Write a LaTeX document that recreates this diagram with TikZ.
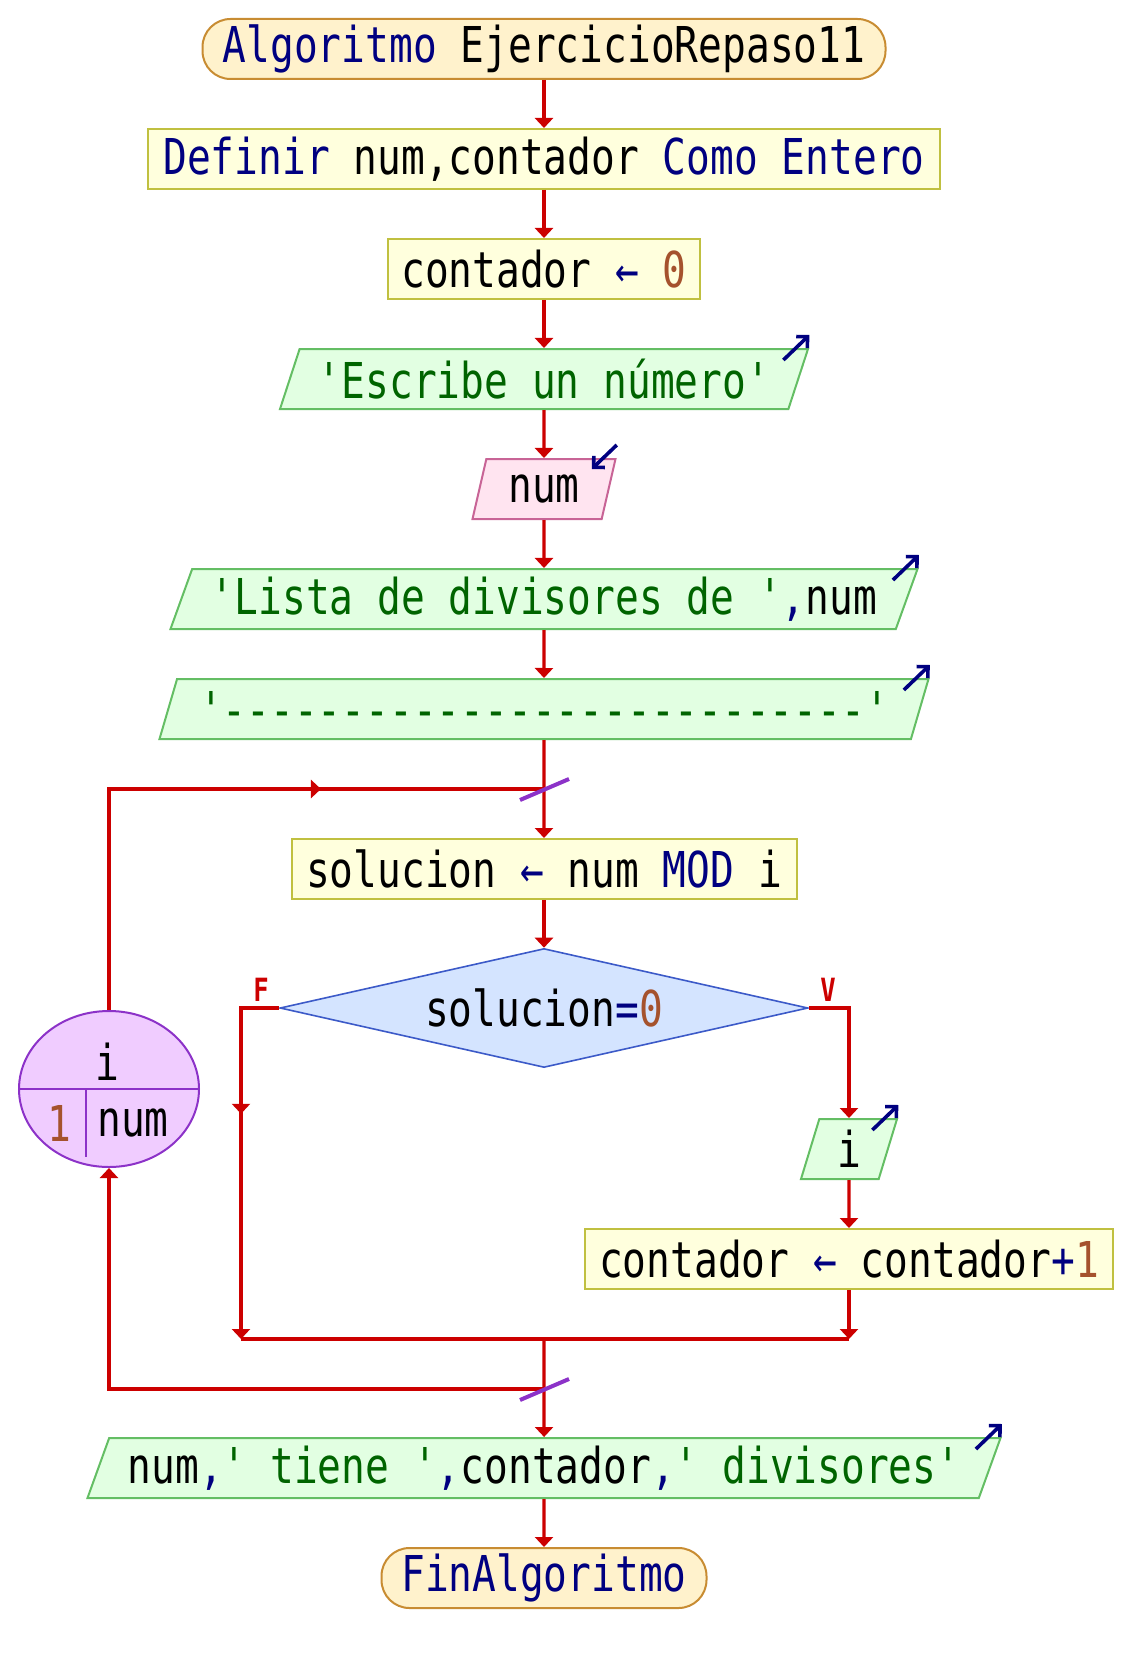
\documentclass[tikz,border=0pt]{standalone}
\usepackage{fontspec}
\usepackage{tikz}
\usetikzlibrary{positioning,shapes.geometric,arrows.meta,decorations.markings}
\setmonofont[FakeStretch=0.8]{DejaVu Sans Mono}
\definecolor{flowred}{RGB}{204,0,0}
\definecolor{kwblue}{RGB}{0,0,128}
\definecolor{strgreen}{RGB}{0,100,0}
\definecolor{numbrown}{RGB}{165,82,45}
\definecolor{termfill}{RGB}{255,242,204}
\definecolor{termline}{RGB}{200,140,50}
\definecolor{procfill}{RGB}{255,255,221}
\definecolor{procline}{RGB}{192,192,64}
\definecolor{outfill}{RGB}{226,255,226}
\definecolor{outgreen}{RGB}{100,190,100}
\definecolor{infill}{RGB}{255,228,240}
\definecolor{inpink}{RGB}{200,100,150}
\definecolor{condfill}{RGB}{212,228,255}
\definecolor{condline}{RGB}{60,90,200}
\definecolor{loopfill}{RGB}{240,204,255}
\definecolor{loopline}{RGB}{140,50,200}

\tikzset{
	every node/.style={font=\ttfamily\fontsize{24.7pt}{28pt}\selectfont, inner sep=0pt},
	term/.style={rectangle, draw=termline, fill=termfill, rounded corners=14pt, minimum height=30pt, line width=1pt},
	proc/.style={rectangle, draw=procline, fill=procfill, minimum height=30pt, line width=1pt},
	outbox/.style={trapezium, trapezium left angle=64, trapezium right angle=116, trapezium stretches body, draw=outgreen, fill=outfill, minimum height=30pt, line width=1pt},
	inbox/.style={outbox, draw=inpink, fill=infill},
	cond/.style={diamond, aspect=4.44, draw=condline, fill=condfill, minimum width=264pt, minimum height=59.5pt, line width=0.8pt},
	flow/.style={-{Triangle[width=9pt,length=5pt]}, line width=1.6pt, flowred},
	wire/.style={line width=1.6pt, flowred},
	midarrow/.style={postaction={decorate}, decoration={markings, mark=at position #1 with {\arrow{Triangle[width=9pt,length=5pt]}}}},
	ioarrow/.style={-{Straight Barb[length=4pt,width=8pt]}, line width=1.8pt, kwblue},
	cut/.style={line width=2pt, loopline},
	branch/.style={font=\ttfamily\bfseries\fontsize{16pt}{18pt}\selectfont, text=flowred}
}

\begin{document}
\begin{tikzpicture}[x=0.5pt, y=-0.5pt, node distance=55pt]
	\useasboundingbox (0,0) rectangle (1132,1680);

	\node [term, minimum width=341.5pt] (start) at (544,49) {{\color{kwblue}Algoritmo} EjercicioRepaso11};
	\node [proc, minimum width=396pt, below of=start] (def) {{\color{kwblue}Definir} num,contador {\color{kwblue}Como Entero}};
	\node [proc, minimum width=156pt, below of=def] (cont0) {contador {\color{kwblue}←} {\color{numbrown}0}};
	\node [outbox, minimum width=264pt, below of=cont0] (esc) {{\color{strgreen}'Escribe un número'}};
	\node [inbox, minimum width=71.5pt, below of=esc] (numin) {num};
	\node [outbox, minimum width=373.5pt, below of=numin] (lista) {{\color{strgreen}'Lista de divisores de '}{\color{kwblue},}num};
	\node [outbox, minimum width=384.5pt, below of=lista] (dash) {{\color{strgreen}'---------------------------'}};
	\coordinate [below of=dash, node distance=40pt] (j1);
	\node [proc, minimum width=252.5pt, below of=dash, node distance=80pt] (sol) {solucion {\color{kwblue}←} num {\color{kwblue}MOD} i};
	\node [cond, below of=sol, node distance=69.5pt] (dia) {solucion{\color{kwblue}=}{\color{numbrown}0}};
	\node [branch] (flab) at (261,990) {F};
	\node [branch] (vlab) at (828,990) {V};
	\node [outbox, minimum width=48pt] (iout) at (849,1149) {i};
	\node [proc, minimum width=264pt, below of=iout] (contp1) {contador {\color{kwblue}←} contador{\color{kwblue}+}{\color{numbrown}1}};
	\coordinate (fcorner) at (241,1339);
	\coordinate (vcorner) at (iout.north |- fcorner);
	\coordinate (j3) at (dia.south |- fcorner);
	\coordinate (j4) at (544,1389);
	\node [outbox, minimum width=456.5pt, below of=dia, node distance=230pt] (final) {num{\color{kwblue},}{\color{strgreen}' tiene '}{\color{kwblue},}contador{\color{kwblue},}{\color{strgreen}' divisores'}};
	\node [term, minimum width=162.5pt, below of=final] (fin) {{\color{kwblue}FinAlgoritmo}};

	\node [ellipse, draw=loopline, fill=loopfill, minimum width=90pt, minimum height=78pt, line width=1pt] (loop) at (109,1089) {};
	\draw [loopline, line width=1pt] (loop.west) -- (loop.east);
	\draw [loopline, line width=1pt] ([xshift=-11.5pt]loop.center) -- ([xshift=-11.5pt,yshift=-34pt]loop.center);
	\node (loopvar) at (107,1062) {i};
	\node (loopfrom) at (59,1123) {\color{numbrown}1};
	\node (loopto) at (133,1123) {num};

	\draw [flow] (start) -- (def);
	\draw [flow] (def) -- (cont0);
	\draw [flow] (cont0) -- (esc);
	\draw [flow] (esc) -- (numin);
	\draw [flow] (numin) -- (lista);
	\draw [flow] (lista) -- (dash);
	\draw [flow] (dash) -- (sol);
	\draw [wire, midarrow=0.66] (loop.north) |- (j1);
	\draw [flow] (sol) -- (dia);
	\draw [flow, midarrow=0.39] (dia.west) -| (fcorner);
	\draw [flow] (dia.east) -| (iout.north);
	\draw [flow] (iout) -- (contp1);
	\draw [flow] (contp1) -- (vcorner);
	\draw [wire] (fcorner) -- (vcorner);
	\draw [flow] (j3) -- (final);
	\draw [flow] (j4) -| (loop.south);
	\draw [flow] (final) -- (fin);

	\draw [cut] ([shift={(-24,11)}]j1) -- ([shift={(25,-10)}]j1);
	\draw [cut] ([shift={(-24,11)}]j4) -- ([shift={(25,-10)}]j4);

	\draw [ioarrow] ([shift={(-26,12)}]esc.top right corner) -- ([shift={(0,-13)}]esc.top right corner);
	\draw [ioarrow] ([shift={(0,-13)}]numin.top right corner) -- ([shift={(-25,11)}]numin.top right corner);
	\draw [ioarrow] ([shift={(-26,12)}]lista.top right corner) -- ([shift={(0,-13)}]lista.top right corner);
	\draw [ioarrow] ([shift={(-26,12)}]dash.top right corner) -- ([shift={(0,-13)}]dash.top right corner);
	\draw [ioarrow] ([shift={(-26,12)}]iout.top right corner) -- ([shift={(0,-13)}]iout.top right corner);
	\draw [ioarrow] ([shift={(-26,12)}]final.top right corner) -- ([shift={(0,-13)}]final.top right corner);
\end{tikzpicture}
\end{document}
